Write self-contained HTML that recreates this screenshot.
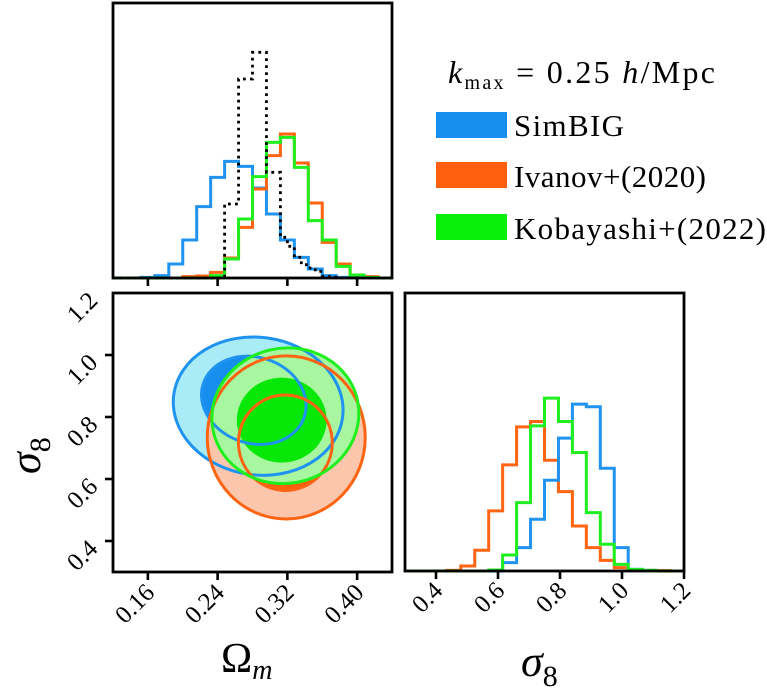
<!DOCTYPE html>
<html><head><meta charset="utf-8"><style>
body{margin:0;background:#fff;}
svg{display:block;font-family:"Liberation Serif",serif;}
</style></head><body>
<svg id="c" width="767" height="696"></svg>
<script>
// ---- data ----
const omBinsStart = 0.12, omBinW = 0.016;
const omSimBIG = [0,0,0.2,0.7,4.2,11.4,21.4,30.2,35,33.5,27,19.2,11.4,6.2,2.7,0.7,0.2,0.2,0.1,0];
const omIvanov = [0,0,0,0,0,0.4,0.6,1.7,6,15.2,26.7,36.7,43.2,34.5,22.5,10.7,4.2,0.9,0.4,0];
const omKoba   = [0,0,0,0,0,0,0,0.7,5.7,17.7,30.4,40.7,42.2,33.2,17.2,11.4,3.5,0.9,0.2,0];
const omPriorStart = 0.12, omPriorW = 0.008;
const omPrior = [0,0,0,0,0,0,0,0,0,0,0,0,0,0,0,0,22.2,22.2,59.7,59.7,67.7,67.7,31.7,31.7,12.2,9.5,6.2,4,3,2,0.5,0.2,0,0,0,0,0,0,0,0];
const s8BinsStart = 0.3, s8BinW = 0.045;
const s8SimBIG = [0,0,0,0,0,0,0,2.5,7,15.5,27.2,39.8,50,49.2,30.8,7,0.5,0.2,0,0];
const s8Ivanov = [0,0,0,0.2,1.5,6.2,18,31.8,43.2,44.8,33.2,23.8,13.5,7,3.2,1,0.4,0.2,0.1,0];
const s8Koba   = [0,0,0,0,0,0,0.3,4.8,20.5,43.5,51.8,44.8,35.5,17.5,8,2,0.5,0.2,0,0];
// contours: [centerOm, centerS8, semiOm, semiS8, tiltDeg]
const simOuter=[0.2865,0.835,0.0977,0.222,8], simInner=[0.2815,0.854,0.061,0.139,18];
const ivaOuter=[0.3187,0.734,0.0906,0.263,0], ivaInner=[0.3177,0.717,0.0538,0.154,-5];
const kobOuter=[0.3177,0.804,0.0846,0.218,-12], kobInner=[0.3135,0.790,0.0515,0.137,0];
const omTicks=[0.16,0.24,0.32,0.40], omTickLabels=["0.16","0.24","0.32","0.40"];
const s8Ticks=[0.4,0.6,0.8,1.0,1.2], s8TickLabels=["0.4","0.6","0.8","1.0","1.2"];

const NS="http://www.w3.org/2000/svg", svg=document.getElementById('c');
function mk(t,a,p){const e=document.createElementNS(NS,t);for(const k in a)e.setAttribute(k,a[k]);(p||svg).appendChild(e);return e;}
const P1={x0:113,x1:392,y0:3,y1:278}, P2={x0:113,x1:392,y0:293,y1:572}, P3={x0:405,x1:684,y0:293,y1:571};
const om=v=>113+(v-0.12)/0.32*279;
const s8y=v=>572-(v-0.3)/0.9*279;
const s8x=v=>405+(v-0.3)/0.9*279;
const h1=v=>P1.y1-v/82.5*275;
const h3=v=>P3.y1-v/83*277;
const BLUE="#1f93ef",ORG="#ff6412",GRN="#1fee1f";
function step(vals,start,w,xf,yf,col,name,dash){
  let d="";
  vals.forEach((v,i)=>{const xa=xf(start+i*w),xb=xf(start+(i+1)*w),y=yf(v);d+=(i?"L":"M")+xa+","+y+"L"+xb+","+y;});
  const e=mk('path',{d:d,fill:'none',stroke:col,'stroke-width':dash?2.8:3,'stroke-dasharray':dash?'2.8,4.2':'none'});
  
  
}
step(omSimBIG,omBinsStart,omBinW,om,h1,BLUE,'omega-hist-simbig');
step(omIvanov,omBinsStart,omBinW,om,h1,ORG,'omega-hist-ivanov');
step(omKoba,omBinsStart,omBinW,om,h1,GRN,'omega-hist-kobayashi');
step(omPrior,omPriorStart,omPriorW,om,h1,'#000','omega-hist-dotted',true);
step(s8Ivanov,s8BinsStart,s8BinW,s8x,h3,ORG,'sigma8-hist-ivanov');
step(s8SimBIG,s8BinsStart,s8BinW,s8x,h3,BLUE,'sigma8-hist-simbig');
step(s8Koba,s8BinsStart,s8BinW,s8x,h3,GRN,'sigma8-hist-kobayashi');
function ell(c){const cx=om(c[0]),cy=s8y(c[1]),rx=om(c[0]+c[2])-cx,ry=cy-s8y(c[1]+c[3]);return {cx,cy,rx,ry,t:c[4]};}
function drawEll(c,fill,stroke,name){const e=ell(c);
  const el=mk('ellipse',{cx:e.cx,cy:e.cy,rx:e.rx,ry:e.ry,transform:`rotate(${e.t} ${e.cx} ${e.cy})`,fill:fill||'none',stroke:stroke||'none','stroke-width':3});
  
  }
drawEll(simOuter,'#a9ebf6',null,'simbig-2sigma-fill');
drawEll(simInner,'#168ef0',null,'simbig-1sigma-fill');
drawEll(ivaOuter,'#fcc6ad',null,'ivanov-2sigma-fill');
drawEll(ivaInner,'#ff6010',null,'ivanov-1sigma-fill');
drawEll(kobOuter,'#a8f7a0',null,'kobayashi-2sigma-fill');
drawEll(kobInner,'#08e808',null,'kobayashi-1sigma-fill');
drawEll(simOuter,null,BLUE,'simbig-2sigma-line');
drawEll(simInner,null,BLUE,'simbig-1sigma-line');
drawEll(ivaOuter,null,ORG,'ivanov-2sigma-line');
drawEll(ivaInner,null,ORG,'ivanov-1sigma-line');
drawEll(kobOuter,null,GRN,'kobayashi-2sigma-line');
[[P1,'top-panel-frame'],[P2,'contour-panel-frame'],[P3,'right-panel-frame']].forEach(([p,n])=>{
  const r=mk('rect',{x:p.x0,y:p.y0,width:p.x1-p.x0,height:p.y1-p.y0,fill:'none',stroke:'#000','stroke-width':2.8});
  });
omTicks.forEach((v,i)=>{const x=om(v);
  mk('line',{x1:x,x2:x,y1:278,y2:286,stroke:'#000','stroke-width':2.6});
  mk('line',{x1:x,x2:x,y1:572,y2:580,stroke:'#000','stroke-width':2.6});
  const t=mk('text',{x:x+8,y:594,'font-size':25,'text-anchor':'end',transform:`rotate(-45 ${x+8} 594)`});
  t.textContent=omTickLabels[i];
  });
s8Ticks.forEach((v,i)=>{
  const y=s8y(v);
  if(v<1.19) mk('line',{x1:105,x2:113,y1:y,y2:y,stroke:'#000','stroke-width':2.6});
  const t=mk('text',{x:99,y:y+9,'font-size':25,'text-anchor':'end',transform:`rotate(-45 99 ${y+9})`});
  t.textContent=s8TickLabels[i];
  
  const x=s8x(v);
  mk('line',{x1:x,x2:x,y1:571,y2:579,stroke:'#000','stroke-width':2.6});
  const t2=mk('text',{x:x+8,y:592,'font-size':25,'text-anchor':'end',transform:`rotate(-45 ${x+8} 592)`});
  t2.textContent=s8TickLabels[i];
  
});
</script>
<svg width="767" height="696" style="position:absolute;left:0;top:0;font-family:'Liberation Serif',serif">
<text x="221" y="672" font-size="42">Ω<tspan font-size="28" font-style="italic" dy="7">m</tspan></text>
<text x="521" y="676" font-size="44" font-style="italic">σ<tspan font-style="normal" font-size="30" dy="10">8</tspan></text>
<text transform="translate(40 474) rotate(-90)" font-size="44" font-style="italic">σ<tspan font-style="normal" font-size="30" dy="10">8</tspan></text>
<g>
<text x="448" y="83" font-size="32" textLength="267"><tspan font-style="italic">k</tspan><tspan font-size="20" dy="6">max</tspan><tspan dy="-6"> = 0.25 </tspan><tspan font-style="italic">h</tspan>/Mpc</text>
<rect x="436" y="112" width="71" height="26" fill="#168ef0"/>
<text x="514" y="136" font-size="31" textLength="110">SimBIG</text>
<rect x="436" y="162" width="71" height="26" fill="#ff6010"/>
<text x="514" y="187" font-size="31" textLength="192">Ivanov+(2020)</text>
<rect x="436" y="214" width="71" height="26" fill="#08ef08"/>
<text x="514" y="239" font-size="31" textLength="252">Kobayashi+(2022)</text>
</g>
</svg>
</body></html>
